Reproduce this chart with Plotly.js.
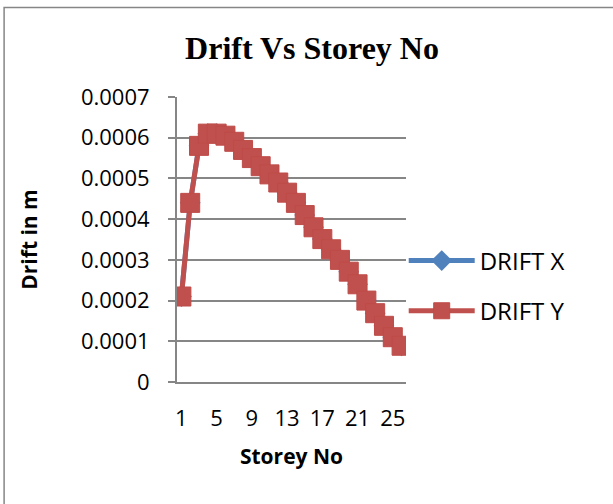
<!DOCTYPE html>
<html>
<head>
<meta charset="utf-8">
<script src="https://cdn.plot.ly/plotly-3.0.1.min.js"></script>
<style>html,body{margin:0;padding:0;background:#fff;}#chart{width:613px;height:504px;}</style>
</head>
<body>
<div id="chart"></div>
<script>
const storeys = [1,2,3,4,5,6,7,8,9,10,11,12,13,14,15,16,17,18,19,20,21,22,23,24,25,26];
const driftX = [0.00021,0.00044,0.00058,0.00061,0.00061,0.000605,0.00059,0.00057,0.00055,0.00053,0.00051,0.00049,0.000465,0.00044,0.00041,0.00038,0.000351,0.000326,0.0003,0.000271,0.00024,0.0002,0.000169,0.000138,0.00011,0.000089];
const driftY = [0.00021,0.00044,0.00058,0.00061,0.00061,0.000605,0.00059,0.00057,0.00055,0.00053,0.00051,0.00049,0.000465,0.00044,0.00041,0.00038,0.000351,0.000326,0.0003,0.000271,0.00024,0.0002,0.000169,0.000138,0.00011,0.000089];
const xTickVals = [1,5,9,13,17,21,25];
const xTickLabels = ['1','5','9','13','17','21','25'];
const yTickVals = [0,0.0001,0.0002,0.0003,0.0004,0.0005,0.0006,0.0007];
const yTickLabels = ['0','0.0001','0.0002','0.0003','0.0004','0.0005','0.0006','0.0007'];

const traces = [
  {x: storeys, y: driftX, name: 'DRIFT X', legendgroup: 'gx', type: 'scatter', mode: 'lines+markers',
   line: {color: '#4F81BD', width: 5}, marker: {symbol: 'diamond', size: 16, color: '#4F81BD'}},
  {x: storeys, y: driftY, name: 'DRIFT Y', legendgroup: 'gy', type: 'scatter', mode: 'lines+markers',
   line: {color: '#C0504D', width: 5}, marker: {symbol: 'square', size: 19, color: '#C0504D', line: {color: '#BE4B48', width: 1}}}
];

const layout = {
  width: 613, height: 504,
  margin: {l: 177, r: 207, t: 97, b: 122},
  paper_bgcolor: '#ffffff', plot_bgcolor: '#ffffff',
  font: {family: 'Open Sans, sans-serif', color: '#000000', size: 22},
  title: {text: '<b>Drift Vs Storey No</b>', x: 0.509, xanchor: 'center', y: 0.905, yanchor: 'middle',
          font: {family: 'Liberation Serif, serif', size: 32, color: '#000000'}},
  xaxis: {range: [0.5, 26.5], tickvals: xTickVals, ticktext: xTickLabels, showgrid: false, zeroline: false,
          showline: true, linecolor: '#868686', linewidth: 2, ticks: '', ticklabelstandoff: 16,
          tickfont: {size: 22},
          title: {text: '<b>Storey No</b>', font: {size: 21}, standoff: 18}},
  yaxis: {range: [0, 0.0007], tickvals: yTickVals, ticktext: yTickLabels, showgrid: true, gridcolor: '#868686', gridwidth: 2,
          zeroline: false, showline: true, linecolor: '#868686', linewidth: 2, ticks: 'outside', ticklen: 7,
          tickcolor: '#868686', tickwidth: 2, ticklabelstandoff: 14, tickfont: {size: 22},
          title: {text: '<b>Drift in m</b>', font: {size: 21}, standoff: 38}},
  showlegend: true,
  legend: {x: 0.99, xanchor: 'left', y: 0.337, yanchor: 'middle', bgcolor: 'rgba(0,0,0,0)',
           font: {size: 24}, itemwidth: 66, tracegroupgap: 16, traceorder: 'grouped'},
  shapes: [{type: 'rect', xref: 'paper', yref: 'paper', x0: -0.755, x1: 2.0, y0: -0.5, y1: 1.314,
            line: {color: '#868686', width: 1.5}, fillcolor: 'rgba(0,0,0,0)', layer: 'below'}]
};

Plotly.newPlot('chart', traces, layout, {displayModeBar: false, staticPlot: true});
</script>
</body>
</html>
